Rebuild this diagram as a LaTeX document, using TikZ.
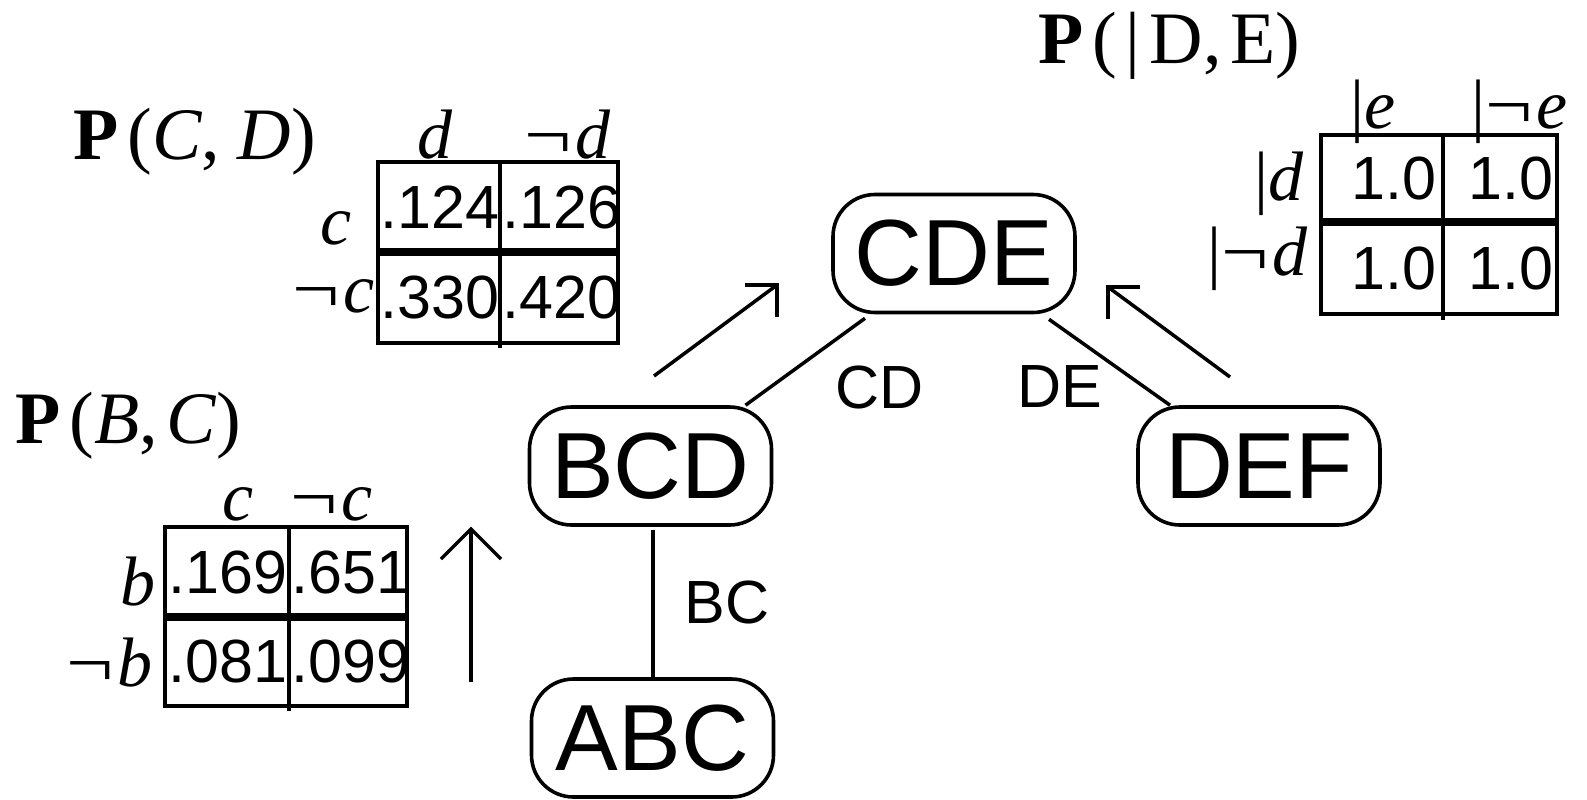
\documentclass[tikz,border=0pt]{standalone}
\usepackage{fontspec}
\usepackage{graphicx}
\setmainfont{Liberation Serif}
\setsansfont{Liberation Sans}
\usetikzlibrary{calc}
\tikzset{
  clique/.style={draw, line width=1.8pt, rounded corners=21pt, minimum width=121pt, minimum height=59pt, inner sep=0pt, font=\fontsize{47}{56}\selectfont\sffamily},
  seplab/.style={inner sep=0pt, font=\fontsize{30.5}{36}\selectfont\sffamily},
  num/.style={inner sep=0pt, font=\fontsize{30.5}{36}\selectfont\sffamily},
  mlab/.style={inner sep=0pt, anchor=base west, font=\fontsize{35}{42}\selectfont},
  ttl/.style={inner sep=0pt, anchor=base west, font=\fontsize{37}{44}\selectfont},
  edge/.style={line width=1.75pt},
  tbl/.style={line width=2.3pt},
  tblmid/.style={line width=1.7pt},
  rulethick/.style={line width=4pt}
}
\newcommand{\mynot}{\scalebox{1.2}[1]{\char"00AC}\hspace{0.06em}}
\newcommand{\tsp}{\hspace{0.12em}}
\begin{document}
\begin{tikzpicture}[x=0.5pt,y=-0.5pt]
\useasboundingbox (0,0) rectangle (1587,799);
% cliques
\node[clique] (CDE) at (954,253.5) {CDE};
\node[clique] (BCD) at (650.5,466) {BCD};
\node[clique] (DEF) at (1259,466) {DEF};
\node[clique] (ABC) at (652.5,738) {ABC};
% separators
\draw[edge] ($(BCD.north)+(95,0)$) -- ($(CDE.south)+(-89,4)$);
\draw[edge] ($(CDE.south)+(95,5)$) -- ($(DEF.north)+(-89,0)$);
\draw[edge] ($(BCD.south)+(2.5,3)$) -- ($(ABC.north)+(0.5,0)$);
\node[seplab] (lCD) at (880,387) {CD};
\node[seplab] (lDE) at (1060,387) {DE};
\node[seplab] (lBC) at (727,602) {BC};
% message arrows
\coordinate (a1tail) at (654,376);  \coordinate (a1tip) at (777,285);
\coordinate (a2tail) at (1230,377); \coordinate (a2tip) at (1108,287);
\coordinate (a3tail) at (471,682);  \coordinate (a3tip) at (471,529);
\draw[edge] (a1tail) -- (a1tip);
\draw[edge] ($(a1tip)+(-32,0)$) -- (a1tip) -- ($(a1tip)+(0,32)$);
\draw[edge] (a2tail) -- (a2tip);
\draw[edge] ($(a2tip)+(32,0)$) -- (a2tip) -- ($(a2tip)+(0,32)$);
\draw[edge] (a3tail) -- (a3tip);
\draw[edge] ($(a3tip)+(-30,30)$) -- (a3tip) -- ($(a3tip)+(30,30)$);
% table P(C,D)
\node[ttl] (tCD) at (73,159) {\textbf{P}\tsp(\textit{C},\tsp\tsp \textit{D})};
\draw[tbl] (378,162) rectangle (618,343);
\draw[rulethick] (378,252) -- (618,252);
\draw[tblmid] (500,162) -- (500,348);
\node[num, anchor=west] (cd11) at (380,207) {.124};
\node[num, anchor=west] (cd12) at (502,207) {.126};
\node[num, anchor=west] (cd21) at (380,297.5) {.330};
\node[num, anchor=west] (cd22) at (502,297.5) {.420};
\node[mlab, anchor=base] (cdh1) at (435,158) {\textit{d}};
\node[mlab] (cdh2) at (524,158) {\mynot\textit{d}};
\node[mlab] (cdr1) at (320,244) {\textit{c}};
\node[mlab] (cdr2) at (292,312) {\mynot\textit{c}};
% table P(B,C)
\node[ttl] (tBC) at (15,443) {\textbf{P}\tsp(\textit{B},\tsp\textit{C})};
\draw[tbl] (165,527) rectangle (407,706);
\draw[rulethick] (165,617) -- (407,617);
\draw[tblmid] (289,527) -- (289,711);
\node[num, anchor=west] (bc11) at (168,572) {.169};
\node[num, anchor=west] (bc12) at (291,572) {.651};
\node[num, anchor=west] (bc21) at (168,661.5) {.081};
\node[num, anchor=west] (bc22) at (291,661.5) {.099};
\node[mlab] (bch1) at (222,520) {\textit{c}};
\node[mlab] (bch2) at (290,520) {\mynot\textit{c}};
\node[mlab] (bcr1) at (120,605) {\textit{b}};
\node[mlab] (bcr2) at (66,686) {\mynot\textit{b}};
% table P(|D,E)
\node[ttl] (tDE) at (1038,63) {\textbf{P}\tsp(\tsp|\tsp D,\tsp E)};
\draw[tbl] (1321,135) rectangle (1557,314);
\draw[rulethick] (1321,222) -- (1557,222);
\draw[tblmid] (1443,135) -- (1443,320);
\node[num, anchor=east] (de11) at (1437,178.5) {1.0};
\node[num, anchor=east] (de12) at (1554,178.5) {1.0};
\node[num, anchor=east] (de21) at (1437,268) {1.0};
\node[num, anchor=east] (de22) at (1554,268) {1.0};
\node[mlab] (deh1) at (1350,128) {|\textit{e}};
\node[mlab] (deh2) at (1471,128) {|\mynot\textit{e}};
\node[mlab] (der1) at (1254,200) {|\textit{d}};
\node[mlab] (der2) at (1207,275) {|\mynot\textit{d}};
\end{tikzpicture}
\end{document}
